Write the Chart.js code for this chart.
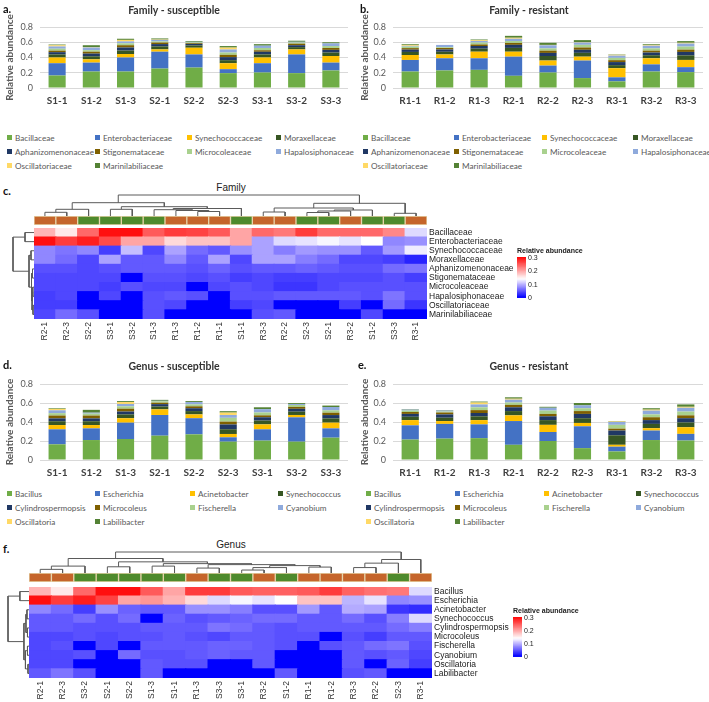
<!DOCTYPE html>
<html><head><meta charset="utf-8">
<script src="https://cdn.jsdelivr.net/npm/chart.js@4.4.1/dist/chart.umd.min.js"></script>
<style>
body{margin:0;background:#fff;width:709px;height:702px;position:relative;overflow:hidden;font-family:Lato,'Liberation Sans',sans-serif;}
canvas{position:absolute;}
.pl{position:absolute;font:bold 11px Lato,sans-serif;color:#111;}
.leg{position:absolute;font:8.2px Lato,sans-serif;color:#595959;white-space:nowrap;line-height:10px;}
.leg i{display:inline-block;width:5px;height:5px;margin-right:3px;vertical-align:1px;}
.ht{position:absolute;font:10px 'Liberation Sans',Arial,sans-serif;color:#222;white-space:nowrap;transform:translateX(-50%);}
.cbt{position:absolute;font:bold 7px 'Liberation Sans',Arial,sans-serif;color:#222;white-space:nowrap;}
</style></head><body>
<script>
// ---------------- DATA ----------------
const familyNames = ['Bacillaceae','Enterobacteriaceae','Synechococcaceae','Moraxellaceae','Aphanizomenonaceae','Stigonemataceae','Microcoleaceae','Hapalosiphonaceae','Oscillatoriaceae','Marinilabiliaceae'];
const genusNames = ['Bacillus','Escherichia','Acinetobacter','Synechococcus','Cylindrospermopsis','Microcoleus','Fischerella','Cyanobium','Oscillatoria','Labilibacter'];
const seriesColors = ['#70AD47','#4472C4','#FFC000','#375623','#203864','#7F6000','#A9D18E','#8FAADC','#FFD966','#548235'];
const susceptibleSamples = ['S1-1','S1-2','S1-3','S2-1','S2-2','S2-3','S3-1','S3-2','S3-3'];
const resistantSamples = ['R1-1','R1-2','R1-3','R2-1','R2-2','R2-3','R3-1','R3-2','R3-3'];
const yTicks = [0,0.2,0.4,0.6,0.8];

// Family - susceptible (one array per family, samples S1-1..S3-3)
const famSusc = [
  [0.164,0.216,0.216,0.255,0.268,0.195,0.203,0.195,0.230],
  [0.161,0.117,0.184,0.221,0.172,0.052,0.122,0.245,0.103],
  [0.075,0.043,0.046,0.030,0.088,0.078,0.075,0.066,0.087],
  [0.040,0.040,0.045,0.040,0.030,0.040,0.040,0.030,0.045],
  [0.030,0.035,0.040,0.030,0.020,0.040,0.035,0.025,0.035],
  [0.020,0.025,0.030,0.020,0.010,0.030,0.020,0.020,0.025],
  [0.025,0.020,0.025,0.015,0.010,0.030,0.030,0.015,0.025],
  [0.030,0.035,0.025,0.020,0.007,0.040,0.030,0.010,0.035],
  [0.015,0.005,0.020,0.005,0.000,0.025,0.000,0.000,0.000],
  [0.010,0.025,0.015,0.014,0.010,0.020,0.020,0.014,0.015]
];
// Family - resistant (samples R1-1..R3-3)
const famRes = [
  [0.216,0.230,0.238,0.160,0.203,0.130,0.087,0.216,0.208],
  [0.152,0.160,0.152,0.251,0.091,0.230,0.053,0.094,0.065],
  [0.065,0.050,0.086,0.065,0.066,0.051,0.120,0.080,0.095],
  [0.040,0.035,0.040,0.050,0.060,0.050,0.040,0.040,0.060],
  [0.030,0.030,0.035,0.040,0.040,0.040,0.040,0.035,0.045],
  [0.020,0.020,0.020,0.025,0.030,0.030,0.025,0.025,0.030],
  [0.020,0.010,0.025,0.025,0.030,0.035,0.030,0.030,0.040],
  [0.010,0.030,0.020,0.030,0.040,0.030,0.030,0.035,0.040],
  [0.012,0.000,0.010,0.013,0.005,0.005,0.010,0.010,0.010],
  [0.010,0.000,0.010,0.025,0.028,0.027,0.005,0.010,0.022]
];
// Genus - susceptible
const genSusc = [
  [0.165,0.210,0.221,0.256,0.270,0.193,0.204,0.193,0.235],
  [0.158,0.123,0.172,0.218,0.170,0.046,0.119,0.256,0.098],
  [0.045,0.035,0.047,0.059,0.040,0.035,0.052,0.025,0.060],
  [0.040,0.040,0.040,0.030,0.035,0.050,0.040,0.035,0.045],
  [0.030,0.030,0.030,0.025,0.030,0.050,0.035,0.030,0.035],
  [0.030,0.030,0.030,0.015,0.020,0.030,0.020,0.020,0.025],
  [0.025,0.020,0.025,0.015,0.020,0.040,0.030,0.020,0.025],
  [0.030,0.010,0.025,0.005,0.025,0.030,0.035,0.010,0.035],
  [0.015,0.000,0.020,0.000,0.000,0.025,0.000,0.000,0.000],
  [0.007,0.030,0.010,0.010,0.010,0.015,0.020,0.010,0.015]
];
// Genus - resistant
const genRes = [
  [0.215,0.225,0.230,0.160,0.200,0.125,0.090,0.210,0.205],
  [0.150,0.155,0.145,0.250,0.095,0.230,0.050,0.100,0.070],
  [0.055,0.030,0.045,0.060,0.075,0.035,0.020,0.025,0.070],
  [0.035,0.035,0.040,0.045,0.050,0.050,0.100,0.045,0.050],
  [0.030,0.035,0.035,0.040,0.040,0.045,0.050,0.040,0.045],
  [0.020,0.020,0.030,0.025,0.025,0.030,0.020,0.030,0.030],
  [0.015,0.010,0.030,0.025,0.035,0.030,0.040,0.030,0.040],
  [0.010,0.010,0.030,0.030,0.030,0.030,0.030,0.040,0.040],
  [0.000,0.000,0.020,0.010,0.000,0.000,0.005,0.010,0.010],
  [0.005,0.005,0.010,0.015,0.010,0.025,0.005,0.015,0.025]
];

// Heatmap c (Family) - column order after clustering
const famHeatCols = ['R2-1','R2-3','S2-2','S3-1','S3-2','S1-3','R1-3','R1-2','R1-1','S1-1','R3-3','R2-2','S2-3','S2-1','R3-2','S1-2','S3-3','R3-1'];
const famHeat = [
  [0.19,0.155,0.24,0.30,0.30,0.25,0.27,0.265,0.25,0.20,0.24,0.23,0.27,0.24,0.24,0.24,0.22,0.12],
  [0.30,0.27,0.29,0.26,0.20,0.20,0.165,0.18,0.18,0.20,0.09,0.12,0.125,0.135,0.125,0.14,0.075,0.08],
  [0.075,0.065,0.075,0.035,0.105,0.04,0.09,0.06,0.05,0.08,0.09,0.07,0.085,0.08,0.08,0.05,0.085,0.13],
  [0.075,0.06,0.04,0.09,0.05,0.05,0.075,0.05,0.09,0.04,0.09,0.09,0.07,0.06,0.04,0.04,0.035,0.02],
  [0.045,0.045,0.04,0.045,0.05,0.05,0.05,0.045,0.055,0.045,0.05,0.05,0.055,0.05,0.045,0.045,0.06,0.065],
  [0.04,0.04,0.04,0.04,0.0,0.045,0.045,0.04,0.045,0.035,0.04,0.035,0.035,0.04,0.04,0.04,0.045,0.035],
  [0.04,0.04,0.04,0.035,0.045,0.04,0.04,0.0,0.04,0.045,0.04,0.03,0.03,0.04,0.045,0.045,0.045,0.045],
  [0.035,0.04,0.0,0.04,0.0,0.045,0.05,0.045,0.0,0.045,0.045,0.05,0.05,0.05,0.05,0.045,0.065,0.045],
  [0.035,0.035,0.0,0.0,0.0,0.045,0.04,0.0,0.0,0.035,0.04,0.0,0.0,0.0,0.035,0.0,0.06,0.03],
  [0.04,0.06,0.045,0.0,0.0,0.045,0.0,0.0,0.0,0.0,0.045,0.05,0.0,0.0,0.0,0.04,0.0,0.0]
];
// Heatmap f (Genus)
const genHeatCols = ['R2-1','R2-3','S3-2','S2-1','S2-2','S1-3','S1-1','R1-3','S3-3','S3-1','R3-2','S1-2','R1-1','R1-2','R3-3','R2-2','S2-3','R3-1'];
const genHeat = [
  [0.19,0.155,0.24,0.30,0.30,0.25,0.20,0.27,0.27,0.25,0.245,0.245,0.25,0.27,0.245,0.235,0.23,0.12],
  [0.30,0.27,0.29,0.265,0.20,0.21,0.19,0.165,0.12,0.135,0.125,0.14,0.18,0.18,0.10,0.125,0.075,0.08],
  [0.075,0.06,0.035,0.08,0.055,0.05,0.05,0.08,0.08,0.07,0.045,0.045,0.085,0.05,0.095,0.09,0.03,0.025],
  [0.05,0.05,0.06,0.045,0.06,0.0,0.055,0.045,0.05,0.055,0.06,0.06,0.05,0.05,0.06,0.045,0.07,0.12],
  [0.05,0.05,0.045,0.045,0.045,0.05,0.05,0.05,0.065,0.06,0.05,0.045,0.05,0.05,0.05,0.05,0.06,0.07],
  [0.04,0.04,0.045,0.04,0.045,0.045,0.05,0.045,0.04,0.05,0.05,0.045,0.045,0.0,0.045,0.035,0.05,0.05],
  [0.04,0.045,0.0,0.04,0.0,0.05,0.05,0.05,0.055,0.055,0.05,0.045,0.0,0.045,0.05,0.06,0.065,0.045],
  [0.04,0.04,0.045,0.0,0.06,0.045,0.045,0.05,0.055,0.05,0.05,0.0,0.0,0.0,0.05,0.045,0.05,0.04],
  [0.04,0.04,0.0,0.0,0.0,0.05,0.045,0.045,0.0,0.0,0.05,0.0,0.0,0.0,0.05,0.0,0.055,0.035],
  [0.05,0.065,0.045,0.0,0.0,0.05,0.0,0.0,0.0,0.0,0.0,0.05,0.0,0.0,0.045,0.05,0.0,0.0]
];
// Dendrograms: [childA, childB, mergeHeight]; leaves 0..n-1, merges numbered n, n+1, ...
const famColTree = [[0,1,3.7],[18,2,6.7],[3,4,6.7],[7,8,4.5],[6,21,5.5],[5,22,6.3],[23,9,7.5],[20,24,9.3],[19,25,13.3],
  [10,11,4],[12,13,3.5],[28,14,5],[29,15,6],[27,30,8],[16,17,2.7],[31,32,12.7],[26,33,21]];
const famRowTree = [[0,1,9],[2,3,3],[4,5,1.5],[6,7,1.2],[8,9,1],[13,14,2],[12,15,2.5],[11,16,5],[10,17,21]];
const genColTree = [[0,1,3.7],[18,2,7],[3,4,6.3],[5,6,7],[7,8,5],[9,10,3],[23,11,5.5],[12,13,6],[24,25,7.5],[22,26,8.5],
  [21,27,9.5],[20,28,11.3],[19,29,14.7],[14,15,5.5],[31,16,10],[32,17,13.7],[30,33,21.3]];
const genRowTree = [[0,1,9],[2,3,2],[4,5,1.5],[11,12,3],[6,7,1.5],[8,9,1],[14,15,3.5],[13,16,5],[10,17,20.7]];
const groupColors = {R:'#C5652B', S:'#4E8A2C'};
const colorbarTicks = [0,0.1,0.2,0.3];
const colorMax = 0.31, colorMid = 0.14;

// ---------------- HELPERS ----------------
Chart.defaults.font.family = 'Lato';
function mk(left, top, w, h){
  const c=document.createElement('canvas'); c.width=w; c.height=h;
  c.style.left=left+'px'; c.style.top=top+'px'; c.style.width=w+'px'; c.style.height=h+'px';
  document.body.appendChild(c); return c.getContext('2d');
}
function txt(cls, left, top, s){ const d=document.createElement('div'); d.className=cls; d.style.left=left+'px'; d.style.top=top+'px'; d.textContent=s; document.body.appendChild(d); return d; }
function heatColor(v){
  let r,g,b;
  if(v<=colorMid){ const s=Math.max(0,v/colorMid); r=Math.round(255*s+30*s*(1-s)); g=Math.round(255*s-8*s*(1-s)); b=255; }
  else { const s=Math.min(1,(v-colorMid)/(colorMax-colorMid)); r=255; g=b=Math.round(255*(1-s)); }
  return `rgb(${r},${g},${b})`;
}
const base = {responsive:false, animation:false, devicePixelRatio:1};
const noPlug = {legend:{display:false}, tooltip:{enabled:false}};

function barPanel(o){
  const ctx=mk(o.left,o.top,o.w,o.h);
  const tH=10.5*1.2, pt=(o.titleY-o.top)-tH/2, pb=(o.plotT-o.top)-pt-tH;
  new Chart(ctx,{type:'bar',
    data:{labels:o.labels, datasets:o.names.map((n,i)=>({label:n,data:o.values[i],backgroundColor:seriesColors[i],borderWidth:0,barPercentage:0.5,categoryPercentage:1}))},
    options:{...base, layout:{padding:{left:0,right:o.left+o.w-o.plotR,top:0,bottom:0}},
      plugins:{...noPlug, title:{display:true,text:o.title,color:'#333',font:{family:'Lato',size:10.5,weight:'bold'},padding:{top:pt,bottom:pb}}},
      scales:{
        x:{stacked:true,grid:{display:false,drawTicks:false},border:{display:false},
           ticks:{padding:7,color:'#404040',autoSkip:false,maxRotation:0,font:{family:'Lato',size:10,weight:'bold'}},
           afterFit:s=>{s.height=o.top+o.h-o.plotB;}},
        y:{stacked:true,min:0,max:0.8,afterBuildTicks:s=>{s.ticks=yTicks.map(v=>({value:v}));},
           ticks:{padding:7,color:'#595959',font:{family:'Lato',size:9},callback:v=>v===0?'0':v.toFixed(1)},
           grid:{color:'#d9d9d9',drawTicks:false},border:{display:false},
           title:{display:true,text:'Relative abundance',color:'#595959',font:{family:'Lato',size:10,weight:'bold'},padding:{top:4,bottom:0}},
           afterFit:s=>{s.width=o.plotL-o.left;}}
      }}});
}
function legendBlock(names, colX, rowY){
  names.forEach((n,i)=>{
    const d=document.createElement('div'); d.className='leg';
    d.style.left=colX[i%4]+'px'; d.style.top=(rowY[Math.floor(i/4)]-5)+'px';
    const sq=document.createElement('i'); sq.style.background=seriesColors[i]; d.appendChild(sq);
    d.appendChild(document.createTextNode(n)); document.body.appendChild(d);
  });
}
function treeDatasets(tree, n, orient){
  const pos=[], ht=[]; for(let i=0;i<n;i++){pos.push(i);ht.push(0);}
  return tree.map(([a,b,h])=>{
    const p = orient==='col'
      ? [{x:pos[a],y:ht[a]},{x:pos[a],y:h},{x:pos[b],y:h},{x:pos[b],y:ht[b]}]
      : [{x:ht[a],y:pos[a]},{x:h,y:pos[a]},{x:h,y:pos[b]},{x:ht[b],y:pos[b]}];
    pos.push((pos[a]+pos[b])/2); ht.push(h);
    return {data:p,showLine:true,borderColor:'#5a5a5a',borderWidth:1,pointRadius:0,tension:0,clip:false};
  });
}
function heatPanel(o){
  const n=o.rows.length, m=o.cols.length, maxH=o.colTree[o.colTree.length-1][2], maxW=o.rowTree[o.rowTree.length-1][2];
  const PT=10;
  // column dendrogram
  new Chart(mk(o.plotL,o.dendT-1,o.plotW,o.stripT-o.dendT+1),{type:'scatter',data:{datasets:treeDatasets(o.colTree,m,'col')},
    options:{...base,layout:{padding:{top:1}},plugins:noPlug,scales:{x:{display:false,min:-0.5,max:m-0.5},y:{display:false,min:0,max:maxH}}}});
  // row dendrogram
  new Chart(mk(o.rootX-1,o.plotT,o.plotL-o.rootX+1,o.plotH),{type:'scatter',data:{datasets:treeDatasets(o.rowTree,n,'row')},
    options:{...base,layout:{padding:{left:1}},plugins:noPlug,scales:{x:{display:false,min:0,max:maxW,reverse:true},y:{display:false,min:-0.5,max:n-0.5,reverse:true}}}});
  // group strip
  new Chart(mk(o.plotL,o.stripT,o.plotW,o.stripH),{type:'bar',
    data:{labels:o.cols,datasets:[{data:o.cols.map(()=>1),backgroundColor:o.cols.map(c=>groupColors[c[0]]),borderColor:'#e6d3a8',borderWidth:1,borderSkipped:false,barPercentage:1,categoryPercentage:1}]},
    options:{...base,plugins:noPlug,scales:{x:{display:false},y:{display:false,min:0,max:1}}}});
  // heatmap cells
  const ds=[]; for(let k=0;k<n;k++){const r=n-1-k; ds.push({label:o.rows[r],data:o.cols.map(()=>1),backgroundColor:o.matrix[r].map(heatColor),borderWidth:0,barPercentage:1,categoryPercentage:1,inflateAmount:0.6});}
  new Chart(mk(o.plotL,o.plotT-PT,o.plotW+o.yAxisW,o.plotH+o.xAxisH+PT),{type:'bar',data:{labels:o.cols,datasets:ds},
    options:{...base,layout:{padding:{top:PT,left:0,right:0,bottom:0}},plugins:noPlug,scales:{
      x:{stacked:true,grid:{display:false,drawTicks:false},border:{display:false},
         ticks:{autoSkip:false,minRotation:90,maxRotation:90,padding:3,color:'#333',font:{family:'Liberation Sans',size:8.5}},afterFit:s=>{s.height=o.xAxisH;}},
      y:{stacked:true,position:'right',min:0,max:n,afterBuildTicks:s=>{s.ticks=o.rows.map((_,k)=>({value:k+0.5}));},
         ticks:{autoSkip:false,padding:2,color:'#222',font:{family:'Liberation Sans',size:8.5},callback:v=>o.rows[n-1-Math.floor(v)]},
         grid:{display:false,drawTicks:false},border:{display:false},afterFit:s=>{s.width=o.yAxisW;}}}}});
  // colour bar
  const steps=31, cds=[]; for(let i=0;i<steps;i++) cds.push({data:[colorMax/steps],backgroundColor:heatColor((i+0.5)*colorMax/steps),borderWidth:0,barPercentage:1,categoryPercentage:1,inflateAmount:0.6});
  const CP=9;
  new Chart(mk(o.cbL,o.cbT-CP,9+22,o.cbH+2*CP),{type:'bar',data:{labels:[''],datasets:cds},
    options:{...base,layout:{padding:{top:CP,bottom:CP}},plugins:noPlug,scales:{
      x:{display:false,stacked:true},
      y:{stacked:true,position:'right',min:0,max:colorMax,afterBuildTicks:s=>{s.ticks=colorbarTicks.map(v=>({value:v}));},
         ticks:{padding:2,color:'#222',font:{family:'Liberation Sans',size:7},callback:v=>v===0?'0':v.toFixed(1)},
         grid:{display:false,drawTicks:false},border:{display:false},afterFit:s=>{s.width=22;}}}}});
  txt('cbt',o.cbL,o.cbT-10,'Relative abundance');
  txt('ht',o.titleX,o.titleY-6,o.title);
}

// ---------------- BUILD ----------------
barPanel({left:0,top:0,w:355,h:108,plotL:40,plotR:348,plotT:27,plotB:88,titleY:11,title:'Family - susceptible',labels:susceptibleSamples,names:familyNames,values:famSusc});
barPanel({left:355,top:0,w:354,h:108,plotL:393,plotR:703,plotT:27,plotB:88,titleY:11,title:'Family - resistant',labels:resistantSamples,names:familyNames,values:famRes});
barPanel({left:0,top:356,w:355,h:126,plotL:40,plotR:348,plotT:384,plotB:460,titleY:367,title:'Genus - susceptible',labels:susceptibleSamples,names:genusNames,values:genSusc});
barPanel({left:355,top:356,w:354,h:126,plotL:393,plotR:703,plotT:384,plotB:460,titleY:367,title:'Genus - resistant',labels:resistantSamples,names:genusNames,values:genRes});
legendBlock(familyNames,[7,95,187,276],[138,152,166]);
legendBlock(familyNames,[363,454,542,633],[138,152,166]);
legendBlock(genusNames,[7,95,190,278],[494,508,522]);
legendBlock(genusNames,[366,455,544,636],[494,508,522]);

heatPanel({title:'Family',titleX:231,titleY:188,cols:famHeatCols,rows:familyNames,matrix:famHeat,colTree:famColTree,rowTree:famRowTree,
  plotL:34,plotW:393,plotT:228,plotH:91,dendT:195,stripT:216,stripH:9,rootX:13,yAxisW:90,xAxisH:28,cbL:517,cbT:257,cbH:41});
heatPanel({title:'Genus',titleX:231,titleY:545,cols:genHeatCols,rows:genusNames,matrix:genHeat,colTree:genColTree,rowTree:genRowTree,
  plotL:29,plotW:403,plotT:587,plotH:91,dendT:552,stripT:573,stripH:9,rootX:8,yAxisW:84,xAxisH:24,cbL:513,cbT:617,cbH:40});

txt('pl',3,2,'a.'); txt('pl',360,2,'b.'); txt('pl',3,184,'c.');
txt('pl',3,358,'d.'); txt('pl',358,358,'e.'); txt('pl',3,542,'f.');
</script>
</body></html>
